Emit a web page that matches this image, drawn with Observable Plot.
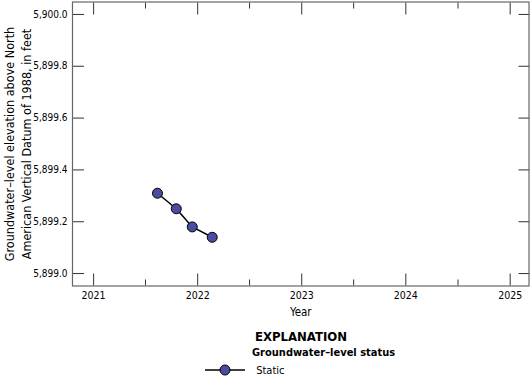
<!DOCTYPE html>
<html>
<head>
<meta charset="utf-8">
<script src="https://cdn.jsdelivr.net/npm/d3@7"></script>
<script src="https://cdn.jsdelivr.net/npm/@observablehq/plot@0.6"></script>
<style>
  body { margin: 0; background: #fff; }
  #wrap { position: relative; width: 531px; height: 389px; font-family: "DejaVu Sans Condensed", "DejaVu Sans", sans-serif; font-stretch: condensed; color: #000; }
  #legend { position: absolute; left: 0; top: 320px; width: 531px; }
  .expl { position: absolute; left: 0; width: 602px; text-align: center; top: 9px; font-weight: bold; font-size: 13px; }
  .stat { position: absolute; left: 252px; top: 26px; font-weight: bold; font-size: 11px; white-space: nowrap; }
  .item { position: absolute; left: 205px; top: 43px; font-size: 11px; white-space: nowrap; }
</style>
</head>
<body>
<div id="wrap"><div id="chart"></div><div id="legend"></div></div>
<script>
const dates = ["2021-08-13", "2021-10-18", "2021-12-13", "2022-02-21"];
const levels = [5899.31, 5899.25, 5899.18, 5899.14];
const yTicks = [5899.0, 5899.2, 5899.4, 5899.6, 5899.8, 5900.0];
const yearTicks = ["2021", "2022", "2023", "2024", "2025"];
const halfTicks = ["2021-07-02", "2022-07-02", "2023-07-02", "2024-07-02"];

const data = dates.map((d, i) => ({date: new Date(d + "T00:00:00Z"), level: levels[i]}));
const years = yearTicks.map(y => new Date(y + "-01-01T00:00:00Z"));
const halves = halfTicks.map(d => new Date(d + "T00:00:00Z"));

const font = `"DejaVu Sans Condensed", "DejaVu Sans", sans-serif`;
const tickColor = "#333";

const chart = Plot.plot({
  width: 531,
  height: 320,
  marginTop: 1.5,
  marginLeft: 72,
  marginRight: 2.5,
  marginBottom: 34.5,
  style: {fontFamily: font, fontSize: "10.5px", color: "#000", background: "#fff"},
  x: {type: "utc", domain: [new Date("2020-10-19T00:00:00Z"), new Date("2025-03-08T00:00:00Z")]},
  y: {domain: [5898.952, 5900.048]},
  marks: [
    // inward ticks
    Plot.axisX(years, {anchor: "bottom", tickSize: -12, text: null, stroke: tickColor, label: null}),
    Plot.axisX(years, {anchor: "top", tickSize: -12, text: null, stroke: tickColor, label: null}),
    Plot.axisX(halves, {anchor: "bottom", tickSize: -6, text: null, stroke: tickColor, label: null}),
    Plot.axisX(halves, {anchor: "top", tickSize: -6, text: null, stroke: tickColor, label: null}),
    Plot.axisY(yTicks, {anchor: "left", tickSize: -12, text: null, stroke: tickColor, label: null}),
    Plot.axisY(yTicks, {anchor: "right", tickSize: -11, text: null, stroke: tickColor, label: null}),
    // tick labels
    Plot.axisX(years, {anchor: "bottom", tickSize: 0, tickPadding: 6, tickFormat: d3.utcFormat("%Y"), label: null, fontSize: 10.5}),
    Plot.axisY(yTicks, {anchor: "left", tickSize: 0, tickPadding: 5, tickFormat: d3.format(",.1f"), label: null, fontSize: 10}),
    Plot.frame({stroke: "#666", strokeWidth: 1.2}),
    // axis titles
    Plot.text(["Groundwater\u2013level elevation above North\nAmerican Vertical Datum of 1988, in feet"], {
      frameAnchor: "left", rotate: -90, dx: -55.5, fontSize: 12.5, lineHeight: 1.35, textAnchor: "middle", lineAnchor: "middle", fill: "#000"
    }),
    Plot.text(["Year"], {frameAnchor: "bottom", dy: 26.5, fontSize: 11.5, lineAnchor: "middle", fill: "#000"}),
    // data
    Plot.line(data, {x: "date", y: "level", stroke: "#000", strokeWidth: 1.5}),
    Plot.dot(data, {x: "date", y: "level", r: 5, fill: "#4b4ba0", stroke: "#000", strokeWidth: 1})
  ]
});
document.getElementById("chart").appendChild(chart);

const legend = document.getElementById("legend");
legend.innerHTML = `
  <div class="expl">EXPLANATION</div>
  <div class="stat">Groundwater\u2013level status</div>
  <div class="item">
    <svg width="40" height="14" style="vertical-align: middle;">
      <line x1="0" y1="7" x2="40" y2="7" stroke="#000" stroke-width="1.5"></line>
      <circle cx="20" cy="7" r="5" fill="#4b4ba0" stroke="#000" stroke-width="1"></circle>
    </svg>
    <span style="margin-left: 8px; vertical-align: middle;">Static</span>
  </div>`;
</script>
</body>
</html>
